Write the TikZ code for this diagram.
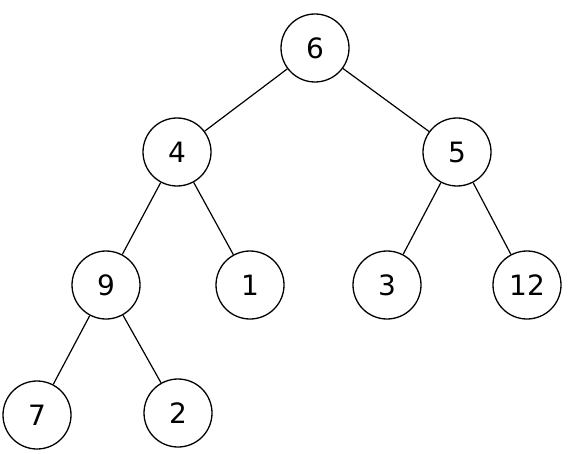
\documentclass[tikz,border=0pt]{standalone}
\usepackage{fontspec}
\setmainfont{DejaVu Sans}
\begin{document}
\begin{tikzpicture}[x=1pt,y=-1pt,
  tnode/.style={circle,draw=black,line width=1.3pt,minimum size=68pt,inner sep=0pt,font=\fontsize{28}{28}\selectfont},
  edge/.style={draw=black,line width=1.2pt}]
\useasboundingbox (0,0) rectangle (569,454);
\node[tnode] (n6) at (315,48) {6};
\node[tnode] (n4) at (177,152) {4};
\node[tnode] (n5) at (457,152) {5};
\node[tnode] (n9) at (106,285) {9};
\node[tnode] (n1) at (250,285) {1};
\node[tnode] (n3) at (387,285) {3};
\node[tnode] (n12) at (527,285) {12};
\node[tnode] (n7) at (37,415) {7};
\node[tnode] (n2) at (178,413) {2};
\path[edge] (n6) -- (n4);
\path[edge] (n6) -- (n5);
\path[edge] (n4) -- (n9);
\path[edge] (n4) -- (n1);
\path[edge] (n5) -- (n3);
\path[edge] (n5) -- (n12);
\path[edge] (n9) -- (n7);
\path[edge] (n9) -- (n2);
\end{tikzpicture}
\end{document}
